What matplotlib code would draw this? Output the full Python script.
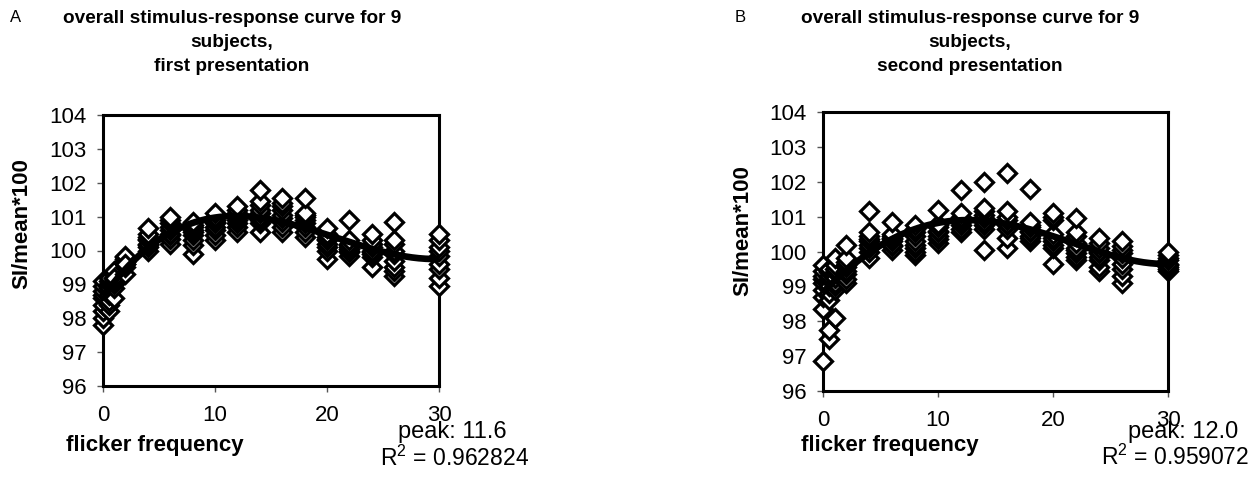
import numpy as np
import matplotlib
matplotlib.use("Agg")
from matplotlib import pyplot as plt

plt.rcParams['font.family'] = ['Liberation Sans', 'DejaVu Sans']

# частоты мелькания и значения для 9 испытуемых (строка = частота)
freqs = [0, 0.5, 1, 2, 4, 6, 8, 10, 12, 14, 16, 18, 20, 22, 24, 26, 30]

values_a = [
    [97.8, 98.0, 98.2, 98.4, 98.6, 98.7, 98.8, 98.95, 99.1],
    [98.2, 98.4, 98.5, 98.7, 98.8, 98.9, 99.0, 99.1, 99.2],
    [98.6, 98.9, 99.0, 99.1, 99.2, 99.3, 99.35, 99.4, 99.2],
    [99.3, 99.5, 99.6, 99.65, 99.7, 99.75, 99.8, 99.85, 99.6],
    [100.0, 100.1, 100.15, 100.2, 100.3, 100.35, 100.4, 100.5, 100.65],
    [100.2, 100.35, 100.45, 100.5, 100.6, 100.7, 100.8, 100.9, 101.0],
    [99.9, 100.15, 100.3, 100.45, 100.55, 100.6, 100.7, 100.75, 100.85],
    [100.3, 100.45, 100.6, 100.7, 100.8, 100.85, 100.9, 101.0, 101.1],
    [100.55, 100.7, 100.8, 100.9, 101.0, 101.05, 101.1, 101.2, 101.3],
    [100.55, 100.8, 100.9, 101.0, 101.1, 101.2, 101.35, 101.45, 101.8],
    [100.55, 100.7, 100.85, 100.95, 101.05, 101.2, 101.3, 101.4, 101.55],
    [100.4, 100.55, 100.7, 100.8, 100.9, 101.0, 101.05, 101.1, 101.55],
    [99.75, 100.0, 100.1, 100.2, 100.3, 100.35, 100.4, 100.5, 100.65],
    [99.85, 99.95, 100.0, 100.05, 100.1, 100.15, 100.2, 100.3, 100.9],
    [99.5, 99.8, 99.9, 99.95, 100.0, 100.1, 100.2, 100.3, 100.5],
    [99.25, 99.4, 99.5, 99.7, 99.9, 100.0, 100.2, 100.3, 100.85],
    [98.95, 99.2, 99.45, 99.6, 99.85, 100.0, 100.1, 100.3, 100.5],
]

values_b = [
    [96.85, 98.35, 98.7, 98.9, 99.1, 99.2, 99.3, 99.45, 99.6],
    [97.5, 97.75, 98.6, 98.8, 99.0, 99.2, 99.3, 99.4, 99.5],
    [98.1, 98.9, 99.0, 99.1, 99.25, 99.4, 99.5, 99.6, 99.8],
    [99.1, 99.2, 99.35, 99.45, 99.55, 99.6, 99.7, 99.8, 100.2],
    [99.8, 100.0, 100.1, 100.2, 100.3, 100.35, 100.45, 100.55, 101.15],
    [100.05, 100.15, 100.2, 100.3, 100.35, 100.4, 100.45, 100.5, 100.85],
    [99.9, 100.0, 100.1, 100.2, 100.3, 100.45, 100.55, 100.65, 100.75],
    [100.25, 100.35, 100.45, 100.55, 100.6, 100.7, 100.75, 100.8, 101.2],
    [100.55, 100.65, 100.75, 100.85, 100.9, 100.95, 101.0, 101.1, 101.75],
    [100.05, 100.65, 100.75, 100.85, 100.95, 101.05, 101.15, 101.25, 102.0],
    [100.1, 100.4, 100.65, 100.75, 100.8, 100.9, 101.0, 101.15, 102.25],
    [100.3, 100.4, 100.45, 100.55, 100.6, 100.7, 100.75, 100.85, 101.8],
    [99.65, 100.1, 100.2, 100.3, 100.4, 100.5, 100.9, 101.0, 101.1],
    [99.75, 99.85, 99.95, 100.05, 100.1, 100.25, 100.45, 100.55, 100.95],
    [99.45, 99.55, 99.75, 99.85, 99.95, 100.0, 100.1, 100.25, 100.4],
    [99.1, 99.3, 99.5, 99.65, 99.8, 99.95, 100.05, 100.15, 100.3],
    [99.45, 99.5, 99.55, 99.6, 99.65, 99.75, 99.8, 99.9, 100.0],
]

titles = ['overall stimulus-response curve for 9\nsubjects,\nfirst presentation',
          'overall stimulus-response curve for 9\nsubjects,\nsecond presentation']
letters = ['A', 'B']
peaks = ['peak: 11.6', 'peak: 12.0']
r2 = ['$\\mathregular{R^2}$ = 0.962824', '$\\mathregular{R^2}$ = 0.959072']

W, H = 1256, 480


def fx(v): return v / W
def fy(v): return 1 - v / H


def draw_panel(fig, rect, values, title, letter, peak, r2_text, pos):
    ax = fig.add_axes(rect)
    x = np.repeat(freqs, 9)
    y = np.array(values).ravel()
    ax.plot(x, y, linestyle='none', marker='D', ms=9, mfc='white', mec='black', mew=2.3, zorder=3,
            clip_on=False)
    # полиномиальная линия тренда, как в Excel
    coef = np.polyfit(x, y, 4)
    xs = np.linspace(0, 30, 200)
    ax.plot(xs, np.polyval(coef, xs), color='black', lw=4.8, zorder=4)

    ax.set_xlim(0, 30)
    ax.set_ylim(96, 104)
    ax.set_xticks([0, 10, 20, 30])
    ax.set_yticks(range(96, 105))
    ax.tick_params(axis='both', labelsize=16, direction='out', length=4, width=1, color='#555555')
    ax.tick_params(axis='x', pad=10)
    ax.tick_params(axis='y', pad=8)
    for s in ax.spines.values():
        s.set_linewidth(2.2)

    fig.text(fx(pos['title'][0]), fy(pos['title'][1]), title, ha='center', va='top',
             fontsize=13.7, fontweight='bold', linespacing=1.55)
    fig.text(fx(pos['letter'][0]), fy(pos['letter'][1]), letter, ha='left', va='center', fontsize=12)
    fig.text(fx(pos['ylabel'][0]), fy(pos['ylabel'][1]), 'SI/mean*100', rotation=90,
             ha='center', va='center', fontsize=16, fontweight='bold')
    fig.text(fx(pos['xlabel'][0]), fy(pos['xlabel'][1]), 'flicker frequency',
             ha='center', va='center', fontsize=16, fontweight='bold')
    fig.text(fx(pos['peak'][0]), fy(pos['peak'][1]), peak, ha='center', va='center', fontsize=17)
    fig.text(fx(pos['r2'][0]), fy(pos['r2'][1]), r2_text, ha='center', va='center', fontsize=16.5)
    return ax


def main():
    fig = plt.figure(figsize=(W / 100, H / 100), dpi=100)

    rect_a = [fx(103), fy(386), fx(439 - 103), (386 - 115) / H]
    rect_b = [fx(823), fy(391), fx(1168 - 823), (391 - 112) / H]

    pos_a = {'title': (232, 10), 'letter': (10, 18), 'ylabel': (22, 224),
             'xlabel': (155, 446), 'peak': (452, 432), 'r2': (455, 458)}
    pos_b = {'title': (970, 10), 'letter': (735, 18), 'ylabel': (743, 231),
             'xlabel': (890, 446), 'peak': (1183, 432), 'r2': (1175, 457)}

    draw_panel(fig, rect_a, values_a, titles[0], letters[0], peaks[0], r2[0], pos_a)
    draw_panel(fig, rect_b, values_b, titles[1], letters[1], peaks[1], r2[1], pos_b)

    fig.savefig('out.png', dpi=100)


main()
